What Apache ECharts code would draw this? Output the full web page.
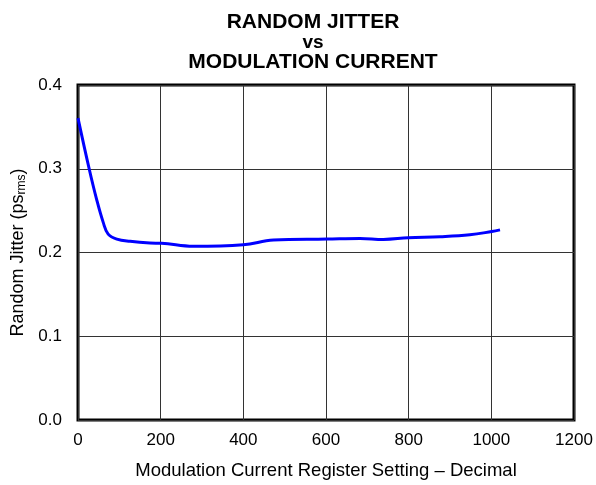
<!DOCTYPE html>
<html>
<head>
<meta charset="utf-8">
<script src="https://cdn.jsdelivr.net/npm/echarts@6/dist/echarts.min.js"></script>
<style>html,body{margin:0;padding:0;background:#fff}#c{width:596px;height:485px}</style>
</head>
<body>
<div id="c"></div>
<script>
var titleLines = ['RANDOM JITTER', 'vs', 'MODULATION CURRENT'];
var xAxisName = 'Modulation Current Register Setting \u2013 Decimal';
var registerSetting = [0, 27, 45, 61, 73, 94, 126, 174, 202, 279, 400, 473, 602, 682, 739, 799, 876, 948, 1001, 1021];
var randomJitter = [0.3605, 0.300, 0.2635, 0.236, 0.222, 0.216, 0.2133, 0.2113, 0.211, 0.2074, 0.2093, 0.2148, 0.216, 0.2168, 0.2156, 0.2176, 0.2188, 0.2211, 0.2251, 0.227];

var data = registerSetting.map(function (x, i) { return [x, randomJitter[i]]; });
var font = 'Liberation Sans, Arial, sans-serif';
var chart = echarts.init(document.getElementById('c'), null, {renderer: 'canvas'});
chart.setOption({
  animation: false,
  title: {
    text: '{a|' + titleLines[0] + '}\n{b|' + titleLines[1] + '}\n{a|' + titleLines[2] + '}',
    left: 308, top: 7, textAlign: 'center',
    textStyle: {
      rich: {
        a: {fontFamily: font, fontWeight: 'bold', fontSize: 21, color: '#000', lineHeight: 21, align: 'center'},
        b: {fontFamily: font, fontWeight: 'bold', fontSize: 19, color: '#000', lineHeight: 19, align: 'center'}
      }
    }
  },
  grid: {left: 78, right: 22, top: 85, bottom: 63, show: true, borderColor: '#000', borderWidth: 3, containLabel: false},
  xAxis: {
    type: 'value', min: 0, max: 1200, interval: 200,
    name: xAxisName, nameLocation: 'middle', nameGap: 41,
    nameTextStyle: {fontFamily: font, fontSize: 18.5, color: '#000'},
    axisLine: {show: false}, axisTick: {show: false},
    axisLabel: {fontFamily: font, fontSize: 17, color: '#000', margin: 12, formatter: function (v) { return String(v); }},
    splitLine: {show: true, lineStyle: {color: '#333', width: 1}}
  },
  yAxis: {
    type: 'value', min: 0, max: 0.4, interval: 0.1,
    name: '{n|Random Jitter (ps}{s|rms}{n|)}', nameLocation: 'middle', nameGap: 49,
    nameTextStyle: {rich: {
      n: {fontFamily: font, fontSize: 18, color: '#000'},
      s: {fontFamily: font, fontSize: 12, color: '#000', verticalAlign: 'bottom', padding: [7, 0, 0, 0]}
    }},
    axisLine: {show: false}, axisTick: {show: false},
    axisLabel: {fontFamily: font, fontSize: 17, color: '#000', margin: 16, formatter: function (v) { return v.toFixed(1); }},
    splitLine: {show: true, lineStyle: {color: '#333', width: 1}}
  },
  series: [{
    type: 'line', data: data, smooth: 0.4, showSymbol: false,
    lineStyle: {color: '#0000ff', width: 3}
  }]
});
</script>
</body>
</html>
